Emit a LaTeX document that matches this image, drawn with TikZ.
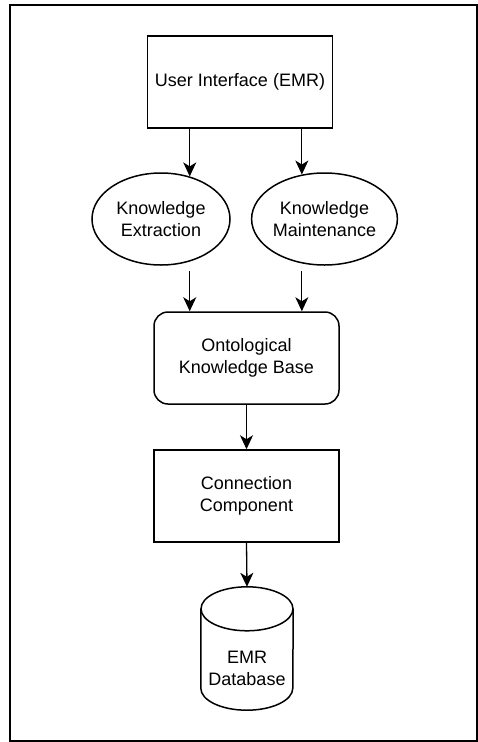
\documentclass[tikz,border=0pt]{standalone}
\usepackage{fontspec}
\setmainfont{Liberation Sans}
\usetikzlibrary{shapes.geometric,arrows.meta,calc}
\begin{document}
\begin{tikzpicture}[x=1pt,y=-1pt,
  label font/.style={font=\fontsize{18}{21.5}\selectfont},
  shape line/.style={line width=1.5pt},
  block/.style={rectangle, draw, shape line, label font, align=center, inner sep=0pt,
    minimum width=185pt, minimum height=92pt},
  roundblock/.style={block, rounded corners=14pt},
  oval/.style={ellipse, draw, shape line, label font, align=center, inner sep=0pt,
    minimum width=138pt, minimum height=92pt},
  arr/.style={line width=1.3pt, -{Stealth[length=14pt,width=13pt,inset=4pt]}}
]
\useasboundingbox (0,0) rectangle (478,742);
% outer frame
\draw[line width=1.5pt] (10,5) rectangle (477,741);

\node[block] (ui) at (240,82) {User Interface (EMR)};
\node[oval] (ke) at (161,219) {Knowledge\\Extraction};
\node[oval] (km) at (324.5,219) {Knowledge\\Maintenance};
\node[roundblock] (kb) at (246.5,358) {Ontological\\Knowledge Base};
\node[block] (cc) at (246.5,496) {Connection\\Component};

% database cylinder: an invisible frame node carries the outline
\node[rectangle, draw=none, minimum width=92pt, minimum height=123pt, inner sep=0pt] (db) at (247,648.5) {};
\draw[shape line] ([yshift=-22pt]db.north) ellipse [x radius=46pt, y radius=22pt];
\draw[shape line] ([yshift=-22pt]db.north west) -- ([yshift=22pt]db.south west)
  arc[start angle=180, end angle=360, x radius=46pt, y radius=22pt]
  -- ([yshift=-22pt]db.north east);
\node[label font, align=center] (dbt) at ([yshift=-20pt]db.center) {EMR\\Database};

% connectors
\draw[arr] (ui.south -| ke.56) -- (ke.56);
\draw[arr] (ui.south -| km.117) -- (km.117);
\draw[arr] ([yshift=-5pt]ke.south -| ke.56) -- (kb.north -| ke.56);
\draw[arr] ([yshift=-5pt]km.south -| km.117) -- (kb.north -| km.117);
\draw[arr] (kb.south) -- (cc.north);
\draw[arr] (cc.south) -- (db.north);
\end{tikzpicture}
\end{document}
